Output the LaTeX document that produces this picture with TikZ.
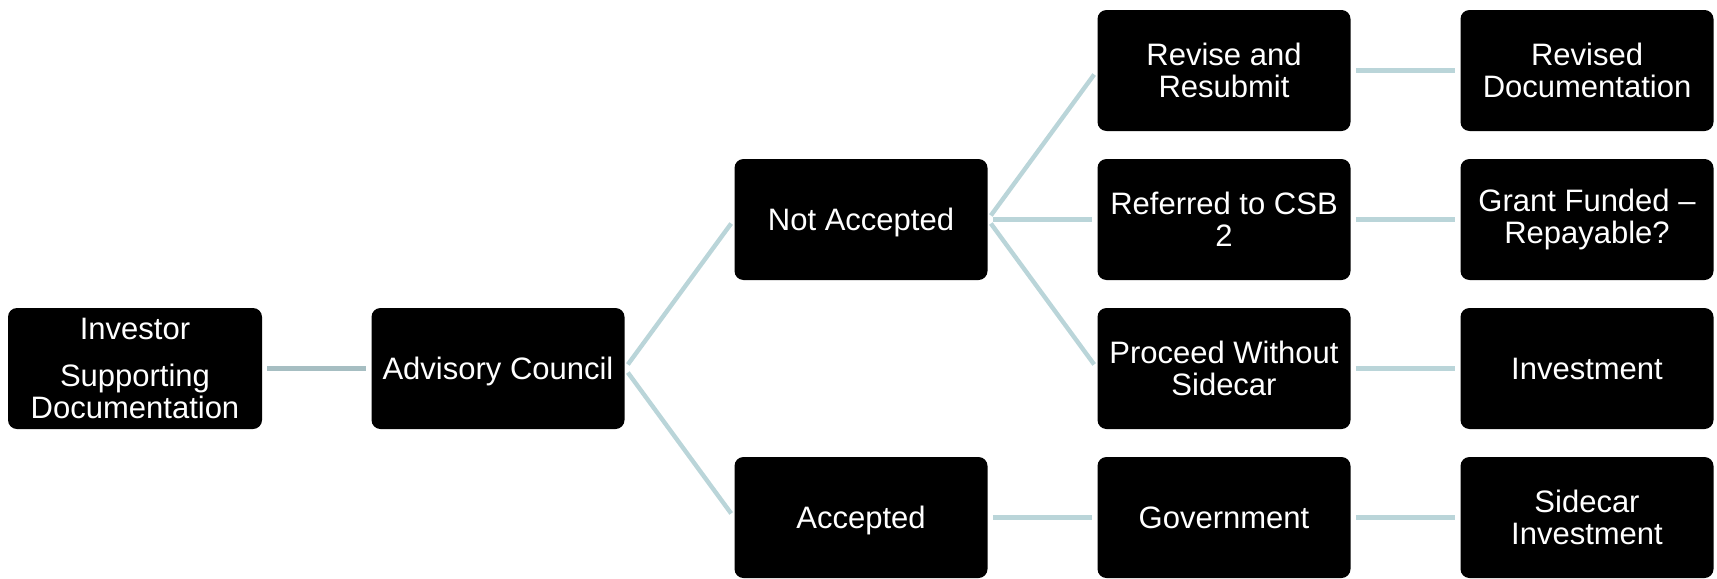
\documentclass[tikz,border=0pt]{standalone}
\usepackage{fontspec}
\setmainfont{Liberation Sans}
\definecolor{linkdark}{RGB}{166,190,194}
\definecolor{linklight}{RGB}{186,213,217}
\begin{document}
\begin{tikzpicture}[x=0.5pt,y=-0.5pt,
  box/.style={fill=black, text=white, rounded corners=4.5pt,
    minimum width=126.5pt, minimum height=60.5pt, inner sep=2pt,
    align=center, font=\fontsize{15.5}{16}\selectfont},
  single/.style={text height=11pt, text depth=0pt},
  link/.style={draw=linklight, line width=2.2pt, shorten <=2.5pt, shorten >=2.5pt},
  linkd/.style={draw=linkdark, line width=2.4pt, shorten <=2.5pt, shorten >=2.5pt}]
\useasboundingbox (0,0) rectangle (1717,578);
\node[box, minimum width=127pt] (inv) at (135,368.5) {Investor\\[7.5pt]Supporting\\Documentation};
\node[box, single] (adv) at (498,368.5) {Advisory Council};
\node[box, single] (nacc) at (861,219.5) {Not Accepted};
\node[box, single] (acc) at (861,517.5) {Accepted};
\node[box] (rev) at (1224,70.5) {Revise and\\Resubmit};
\node[box] (ref) at (1224,219.5) {Referred to CSB\\2};
\node[box] (pro) at (1224,368.5) {Proceed Without\\Sidecar};
\node[box, single] (gov) at (1224,517.5) {Government};
\node[box] (revd) at (1587,70.5) {Revised\\Documentation};
\node[box] (grant) at (1587,219.5) {Grant Funded --\\Repayable?};
\node[box, single] (inv2) at (1587,368.5) {Investment};
\node[box] (side) at (1587,517.5) {Sidecar\\Investment};
\draw[linkd] (inv.east) -- (adv.west);
\draw[link] (adv.east) -- (nacc.west);
\draw[link] (adv.east) -- (acc.west);
\draw[link] (nacc.east) -- (rev.west);
\draw[link] (nacc.east) -- (ref.west);
\draw[link] (nacc.east) -- (pro.west);
\draw[link] (acc.east) -- (gov.west);
\draw[link] (rev.east) -- (revd.west);
\draw[link] (ref.east) -- (grant.west);
\draw[link] (pro.east) -- (inv2.west);
\draw[link] (gov.east) -- (side.west);
\end{tikzpicture}
\end{document}
